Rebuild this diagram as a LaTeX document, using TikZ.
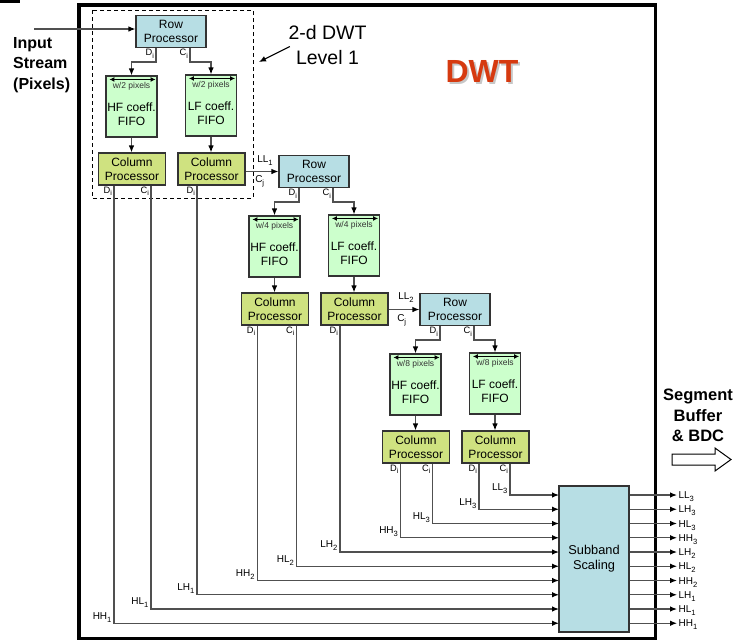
\documentclass[tikz,border=0pt]{standalone}
\usepackage{fontspec}
\setmainfont{Liberation Sans}
\usetikzlibrary{arrows.meta,calc}
\definecolor{rowc}{RGB}{183,222,228}
\definecolor{fifoc}{RGB}{204,255,204}
\definecolor{colc}{RGB}{207,226,128}
\definecolor{dwtred}{RGB}{214,58,16}
\definecolor{linec}{RGB}{80,80,80}
\newcommand{\sbs}[1]{\raisebox{-0.3em}{\scalebox{0.76}{#1}}}
\begin{document}
\begin{tikzpicture}[x=1pt,y=-1pt,
  box/.style={draw=black!80, line width=1.1pt, inner sep=0pt, align=center, font=\fontsize{12}{14}\selectfont},
  rowbox/.style={box, fill=rowc, minimum width=70pt, minimum height=32pt},
  fifobox/.style={box, fill=fifoc, minimum width=51pt, minimum height=61pt},
  colbox/.style={box, fill=colc, minimum width=67pt, minimum height=32pt},
  fifotxt/.style={align=center, inner sep=0pt, font=\fontsize{12}{14}\selectfont},
  wtxt/.style={inner sep=0pt, font=\fontsize{8.5}{9}\selectfont, text=black!80},
  arr/.style={draw=linec, line width=1.15pt, -{Latex[length=7pt,width=5.5pt,color=black]}},
  sl/.style={inner sep=0.5pt, font=\fontsize{9.3}{10}\selectfont},
  bl/.style={inner sep=0.5pt, font=\fontsize{10}{11}\selectfont},
  dbl/.style={line width=1.1pt, black, {Latex[length=5pt,width=5pt]}-{Latex[length=5pt,width=5pt]}},
]
\useasboundingbox (0,0) rectangle (744,641);
\fill (0,0) rectangle (20,2.5);
% frame and dashed level-1 box
\draw[line width=3.3pt] (79,5) rectangle (655.5,638.5);
\draw[line width=0.9pt, dash pattern=on 4pt off 3pt] (92,10) rectangle (253,198);

% titles
\node[font=\bfseries\fontsize{16}{20.8}\selectfont, align=left, inner sep=0pt, anchor=west] (ins) at (13,65) {Input\\Stream\\(Pixels)};
\node[font=\fontsize{19.5}{25}\selectfont, align=center, inner sep=0pt] (lvl) at (327.5,45.5) {2-d DWT\\Level 1};
\coordinate (lvtip) at (259,62);
\draw[line width=1.1pt, -{Latex[length=7pt,width=6pt]}] ($(lvl.west)+(1.5,1)$) -- (lvtip);
\node[font=\bfseries\fontsize{32}{36}\selectfont, text=black!22, inner sep=0pt] (dwts) at (484,73.5) {DWT};
\node[font=\bfseries\fontsize{32}{36}\selectfont, text=dwtred, inner sep=0pt] (dwt) at (482,71.5) {DWT};
\node[font=\bfseries\fontsize{16.5}{20.5}\selectfont, align=center, inner sep=0pt] (seg) at (698,415.6) {Segment\\Buffer\\\& BDC};
\draw[line width=1pt, fill=white] (672,454) -- (715,454) -- (715,448) -- (731,459.5) -- (715,471) -- (715,465) -- (672,465) -- cycle;

% level 1
\node[rowbox] (row1) at (171,31.5) {Row\\Processor};
\node[fifobox] (hf1) at (131.5,106.5) {};
\node[fifobox] (lf1) at (211,105.5) {};
\node[colbox] (ca1) at (132,169) {Column\\Processor};
\node[colbox] (cb1) at (211.5,169) {Column\\Processor};
% level 2
\node[rowbox] (row2) at (314,171.5) {Row\\Processor};
\node[fifobox] (hf2) at (274.5,246.5) {};
\node[fifobox] (lf2) at (354,245.5) {};
\node[colbox] (ca2) at (275,309) {Column\\Processor};
\node[colbox] (cb2) at (354.5,309) {Column\\Processor};
% level 3
\node[rowbox] (row3) at (455,309.5) {Row\\Processor};
\node[fifobox] (hf3) at (415.5,384.5) {};
\node[fifobox] (lf3) at (495,383.5) {};
\node[colbox] (ca3) at (416,447) {Column\\Processor};
\node[colbox] (cb3) at (495.5,447) {Column\\Processor};

\foreach \nm/\tx/\wx in {hf1/HF/2, lf1/LF/2, hf2/HF/4, lf2/LF/4, hf3/HF/8, lf3/LF/8} {
  \node[fifotxt] (\nm-t) at ($(\nm)+(0,7.5)$) {\tx{} coeff.\\FIFO};
  \node[wtxt] (\nm-w) at ($(\nm.north)+(0,11)$) {w/\wx{} pixels};
  \draw[dbl] ($(\nm.north west)+(4,4)$) -- ($(\nm.north east)+(-2,4)$);
}

\foreach \k in {1,2,3} {
  \draw[arr] ($(row\k.south)+(-15,0)$) node[sl, anchor=north east, xshift=-1pt] (rd\k) {D\sbs{i}} -- ++(0,14) -| (hf\k.north);
  \draw[arr] ($(row\k.south)+(19,0)$) node[sl, anchor=north east, xshift=-1pt] (rc\k) {C\sbs{i}} -- ++(0,14) -| (lf\k.north);
  \draw[arr] (hf\k.south) -- (hf\k.south |- ca\k.north);
  \draw[arr] (lf\k.south) -- (lf\k.south |- cb\k.north);
}

% input stream
\coordinate (inp) at (34,29);
\draw[arr] (inp) -- (row1.west |- inp);

% LL links
\draw[arr] (cb1.east |- row2.west) -- (row2.west);
\node[bl, anchor=south west] (ll1) at ($(cb1.east |- row2.west)+(11,-5.5)$) {LL\sbs{1}};
\node[bl, anchor=north west] (cj1) at ($(cb1.east |- row2.west)+(9,3)$) {C\sbs{j}};
\draw[arr] (cb2.east |- row3.west) -- (row3.west);
\node[bl, anchor=south west] (ll2) at ($(cb2.east |- row3.west)+(9,-6)$) {LL\sbs{2}};
\node[bl, anchor=north west] (cj2) at ($(cb2.east |- row3.west)+(8,4)$) {C\sbs{j}};

% subband scaling
\node[box, fill=rowc, minimum width=70pt, minimum height=146pt, font=\fontsize{12.8}{15}\selectfont] (sub) at (594,559) {Subband\\Scaling};
\foreach \k in {0,...,9} {
  \coordinate (in\k) at (559,{495+14.25*\k});
}
\draw[arr] ($(cb3.south)+(14.5,0)$) node[sl, anchor=north east, xshift=-1pt] (s0) {C\sbs{i}} |- node[bl, pos=0.5, anchor=south east, xshift=-1.5pt] (l0) {LL\sbs{3}} (in0);
\draw[arr] ($(cb3.south)+(-16.5,0)$) node[sl, anchor=north east, xshift=-1pt] (s1) {D\sbs{i}} |- node[bl, pos=0.5, anchor=south east, xshift=-1.5pt] (l1) {LH\sbs{3}} (in1);
\draw[arr] ($(ca3.south)+(16.5,0)$) node[sl, anchor=north east, xshift=-1pt] (s2) {C\sbs{i}} |- node[bl, pos=0.5, anchor=south east, xshift=-1.5pt] (l2) {HL\sbs{3}} (in2);
\draw[arr] ($(ca3.south)+(-15.5,0)$) node[sl, anchor=north east, xshift=-1pt] (s3) {D\sbs{i}} |- node[bl, pos=0.5, anchor=south east, xshift=-1.5pt] (l3) {HH\sbs{3}} (in3);
\draw[arr] ($(cb2.south)+(-14.5,0)$) node[sl, anchor=north east, xshift=-1pt] (s4) {D\sbs{i}} |- node[bl, pos=0.5, anchor=south east, xshift=-1.5pt] (l4) {LH\sbs{2}} (in4);
\draw[arr] ($(ca2.south)+(21.5,0)$) node[sl, anchor=north east, xshift=-1pt] (s5) {C\sbs{i}} |- node[bl, pos=0.5, anchor=south east, xshift=-1.5pt] (l5) {HL\sbs{2}} (in5);
\draw[arr] ($(ca2.south)+(-17.8,0)$) node[sl, anchor=north east, xshift=-1pt] (s6) {D\sbs{i}} |- node[bl, pos=0.5, anchor=south east, xshift=-1.5pt] (l6) {HH\sbs{2}} (in6);
\draw[arr] ($(cb1.south)+(-14.5,0)$) node[sl, anchor=north east, xshift=-1pt] (s7) {D\sbs{i}} |- node[bl, pos=0.5, anchor=south east, xshift=-1.5pt] (l7) {LH\sbs{1}} (in7);
\draw[arr] ($(ca1.south)+(19,0)$) node[sl, anchor=north east, xshift=-1pt] (s8) {C\sbs{i}} |- node[bl, pos=0.5, anchor=south east, xshift=-1.5pt] (l8) {HL\sbs{1}} (in8);
\draw[arr] ($(ca1.south)+(-18,0)$) node[sl, anchor=north east, xshift=-1pt] (s9) {D\sbs{i}} |- node[bl, pos=0.5, anchor=south east, xshift=-1.5pt] (l9) {HH\sbs{1}} (in9);

% outputs
\foreach \k/\tx/\sx in {0/LL/3, 1/LH/3, 2/HL/3, 3/HH/3, 4/LH/2, 5/HL/2, 6/HH/2, 7/LH/1, 8/HL/1, 9/HH/1} {
  \coordinate (out\k) at (677,{495+14.25*\k});
  \draw[arr] (sub.east |- out\k) -- (out\k) node[bl, anchor=west, text height=7.2pt, text depth=0pt, inner sep=1pt] (o\k) {\tx\sbs{\sx}};
}
\end{tikzpicture}
\end{document}
